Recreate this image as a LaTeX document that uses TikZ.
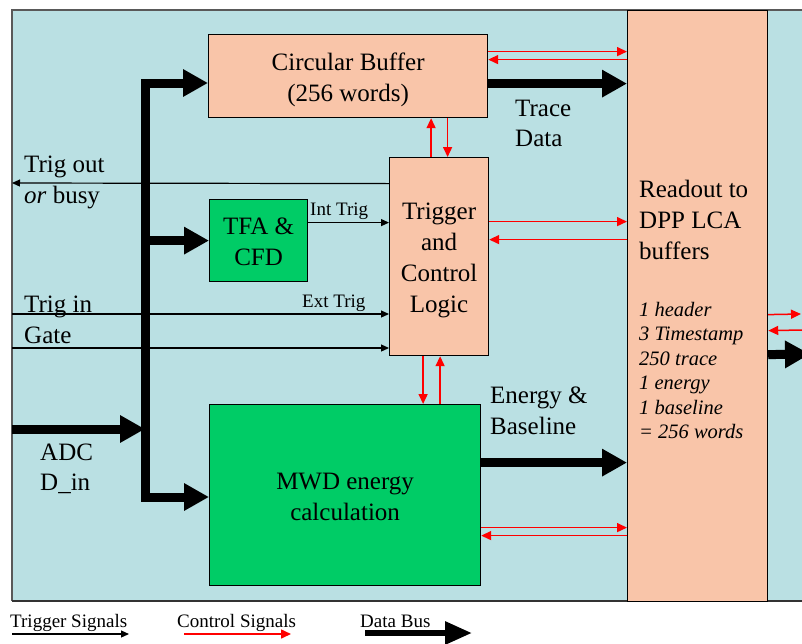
\documentclass[tikz,border=0pt]{standalone}
\usepackage{fontspec}
\setmainfont{Liberation Serif}
\usetikzlibrary{arrows.meta}
\definecolor{bgblue}{RGB}{186,224,227}
\definecolor{peach}{RGB}{249,197,169}
\definecolor{mwdgreen}{RGB}{0,204,102}
\begin{document}
\begin{tikzpicture}[x=1pt,y=-1pt,
  box/.style={draw=black, line width=1.2pt, anchor=north west, inner sep=0pt},
  boxtxt/.style={inner sep=0pt, align=center, font=\fontsize{25}{31}\selectfont},
  bigtxt/.style={anchor=base west, inner sep=0pt, font=\fontsize{25}{31}\selectfont},
  smalltxt/.style={anchor=base west, inner sep=0pt, font=\fontsize{19}{22}\selectfont},
  listtxt/.style={anchor=base west, inner sep=0pt, font=\fontsize{20.5}{24}\selectfont\itshape},
  bus/.style={line width=9pt, -{Triangle[length=25pt,width=26pt]}},
  ctrl/.style={red, line width=1.5pt, -{Triangle[length=10pt,width=9pt]}},
  trig/.style={black, line width=1.2pt, -{Triangle[length=8pt,width=7pt]}}
]
\useasboundingbox (0,0) rectangle (802,643);
% background panel
\fill[bgblue] (12,10) rectangle (815,601);
\draw[black!65, line width=1.3pt] (815,10) -- (12,10) -- (12,601);
\draw[black!80, line width=1.3pt] (12,601) -- (815,601);

% blocks
\node[box, fill=peach, minimum width=140pt, minimum height=591pt] (ro) at (627,10) {};
\node[box, fill=peach, minimum width=279pt, minimum height=83pt] (cb) at (208,34) {};
\node[box, fill=peach, minimum width=99pt, minimum height=198pt] (tcl) at (389,157) {};
\node[box, fill=mwdgreen, minimum width=98pt, minimum height=82pt] (tfa) at (209,199) {};
\node[box, fill=mwdgreen, minimum width=271pt, minimum height=181pt] (mwd) at (209,404) {};
\node[boxtxt] (cbt) at ([yshift=-3.5pt]cb.center) {Circular Buffer\\(256 words)};
\node[boxtxt] (tclt) at ([yshift=-4pt]tcl.center) {Trigger\\and\\Control\\Logic};
\node[boxtxt] (tfat) at ([yshift=-1pt]tfa.center) {TFA \&\\CFD};
\node[boxtxt] (mwdt) at ([yshift=-2pt]mwd.center) {MWD energy\\calculation};

% readout texts
\node[bigtxt] (ro1) at (639,197) {Readout to};
\node[bigtxt] (ro2) at (639,228) {DPP LCA};
\node[bigtxt] (ro3) at (639,259) {buffers};
\node[listtxt] (li1) at (639,316) {1 header};
\node[listtxt] (li2) at (639,340.5) {3 Timestamp};
\node[listtxt] (li3) at (639,365) {250 trace};
\node[listtxt] (li4) at (639,389.5) {1 energy};
\node[listtxt] (li5) at (639,414) {1 baseline};
\node[listtxt] (li6) at (639,438.5) {= 256 words};

% free ends
\coordinate (tout) at (12,183);
\coordinate (trigin) at (12,314);
\coordinate (gatein) at (12,348);
\coordinate (adcin) at (12,429);
\coordinate (bustop) at (145,83);
\coordinate (busbot) at (145,497);
\coordinate (rr1) at (801,314);
\coordinate (rr2) at (803,330);
\coordinate (rr3) at (810,354);

% trigger signals
\draw[trig] ([yshift=73pt]tcl.west) -- (tout);
\draw[trig] ([yshift=18pt]tfa.east) -- ([yshift=18pt]tfa.east -| tcl.west);
\draw[trig] (trigin) -- (trigin -| tcl.west);
\draw[trig] (gatein) -- (gatein -| tcl.west);

% control signals
\draw[ctrl] ([yshift=24.5pt]cb.east) -- ([yshift=24.5pt]cb.east -| ro.west);
\draw[ctrl] ([yshift=16.5pt]cb.east -| ro.west) -- ([yshift=16.5pt]cb.east);
\draw[ctrl] ([yshift=35pt]tcl.east) -- ([yshift=35pt]tcl.east -| ro.west);
\draw[ctrl] ([yshift=17pt]tcl.east -| ro.west) -- ([yshift=17pt]tcl.east);
\draw[ctrl] ([yshift=-32.5pt]mwd.east) -- ([yshift=-32.5pt]mwd.east -| ro.west);
\draw[ctrl] ([yshift=-40.5pt]mwd.east -| ro.west) -- ([yshift=-40.5pt]mwd.east);
\draw[ctrl] ([xshift=-8pt]tcl.north) -- ([xshift=-8pt]tcl.north |- cb.south);
\draw[ctrl] ([xshift=8.5pt]tcl.north |- cb.south) -- ([xshift=8.5pt]tcl.north);
\draw[ctrl] ([xshift=-16pt]tcl.south) -- ([xshift=-16pt]tcl.south |- mwd.north);
\draw[ctrl] ([xshift=1pt]tcl.south |- mwd.north) -- ([xshift=1pt]tcl.south);
\draw[ctrl] ([yshift=-8.5pt]ro.east) -- (rr1);
\draw[ctrl] (rr2) -- ([yshift=-24.5pt]ro.east);

% data buses
\draw[line width=9pt, line join=miter, {Triangle[length=25pt,width=26pt]}-{Triangle[length=25pt,width=26pt]}]
  (bustop -| cb.west) -- (bustop) -- (busbot) -- (busbot -| mwd.west);
\draw[bus] (bustop |- tfa.west) -- (tfa.west);
\draw[bus] (adcin) -- (adcin -| bustop);
\draw[bus] ([yshift=-7.5pt]cb.east) -- ([yshift=-7.5pt]cb.east -| ro.west);
\draw[bus] ([yshift=32.5pt]mwd.east) -- ([yshift=32.5pt]mwd.east -| ro.west);
\draw[bus] ([yshift=-48.5pt]ro.east) -- (rr3);

% labels
\node[bigtxt] (lto1) at (24,172) {Trig out};
\node[bigtxt] (lto2) at (24,203) {\textit{or} busy};
\node[bigtxt] (ltin) at (24,312) {Trig in};
\node[bigtxt] (lgate) at (24,343) {Gate};
\node[bigtxt] (ladc1) at (40,460) {ADC};
\node[bigtxt] (ladc2) at (40,490) {D\_in};
\node[bigtxt] (ltr1) at (515,116) {Trace};
\node[bigtxt] (ltr2) at (515,146) {Data};
\node[bigtxt] (len1) at (490,403) {Energy \&};
\node[bigtxt] (len2) at (490,434) {Baseline};
\node[smalltxt] (lint) at (310,215) {Int Trig};
\node[smalltxt] (lext) at (302,307) {Ext Trig};

% legend
\node[smalltxt] (lg1) at (10,627) {Trigger Signals};
\node[smalltxt] (lg2) at (177,627) {Control Signals};
\node[smalltxt] (lg3) at (360,627) {Data Bus};
\coordinate (lga1) at (12,634);
\coordinate (lgb1) at (129,634);
\coordinate (lga2) at (184,634);
\coordinate (lgb2) at (291,634);
\coordinate (lga3) at (365,633);
\coordinate (lgb3) at (472,633);
\draw[trig] (lga1) -- (lgb1);
\draw[ctrl] (lga2) -- (lgb2);
\draw[line width=6pt, -{Triangle[length=27pt,width=22pt]}] (lga3) -- (lgb3);
\end{tikzpicture}
\end{document}
